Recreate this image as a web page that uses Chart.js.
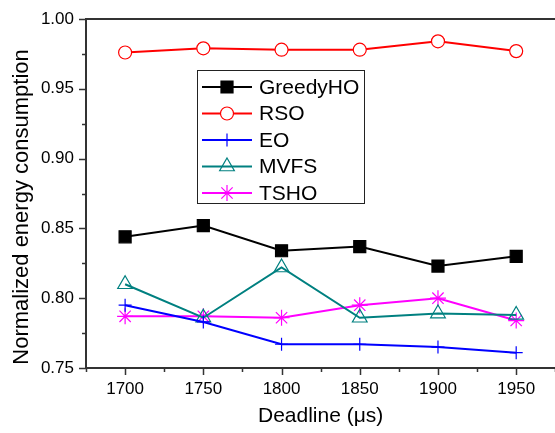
<!DOCTYPE html>
<html>
<head>
<meta charset="utf-8">
<script src="https://cdn.jsdelivr.net/npm/chart.js@4.4.1/dist/chart.umd.min.js"></script>
<style>
  html, body { margin: 0; padding: 0; background: #fff; overflow: hidden; }
  #wrap { width: 565px; height: 433px; }
</style>
</head>
<body>
<div id="wrap"><canvas id="chart" width="565" height="433"></canvas></div>
<script>
// data
var deadlines = [1700, 1750, 1800, 1850, 1900, 1950];
var greedyHO = [0.844, 0.852, 0.834, 0.837, 0.823, 0.830];
var rso      = [0.976, 0.979, 0.978, 0.978, 0.984, 0.977];
var eo       = [0.795, 0.783, 0.767, 0.767, 0.765, 0.761];
var mvfs     = [0.810, 0.786, 0.822, 0.786, 0.789, 0.788];
var tsho     = [0.787, 0.787, 0.786, 0.795, 0.800, 0.784];

var xTicks = [1700, 1750, 1800, 1850, 1900, 1950];
var yTicks = [0.75, 0.80, 0.85, 0.90, 0.95, 1.00];
var xMinor = [1675, 1725, 1775, 1825, 1875, 1925, 1975];
var yMinor = [0.775, 0.825, 0.875, 0.925, 0.975];

var FONT = "'Liberation Sans', Arial, sans-serif";

function pts(ys) {
    return deadlines.map(function (x, i) { return { x: x, y: ys[i] }; });
}

function series(label, ys, color, style, radius, fill) {
    return {
        label: label,
        data: pts(ys),
        borderColor: color,
        backgroundColor: color,
        borderWidth: 2,
        pointStyle: style,
        pointRadius: radius,
        pointBackgroundColor: fill,
        pointBorderColor: color,
        pointBorderWidth: 1.2,
        tension: 0
    };
}

// frame, tick marks, y title and the boxed legend
var decor = {
    id: "decor",
    afterDraw: function (chart) {
        var c = chart.ctx, a = chart.chartArea;
        var xs = chart.scales.x, ys = chart.scales.y;
        c.save();
        c.strokeStyle = "#333";
        c.lineWidth = 2;
        c.beginPath();
        c.moveTo(a.left, a.bottom);
        c.lineTo(a.left, a.top);
        c.lineTo(a.right, a.top);
        c.moveTo(a.left, a.bottom);
        c.lineTo(a.right, a.bottom);
        c.stroke();

        c.lineWidth = 1.5;
        c.beginPath();
        xTicks.forEach(function (v) {
            var px = Math.round(xs.getPixelForValue(v)) + 0.5;
            c.moveTo(px, a.bottom); c.lineTo(px, a.bottom + 7);
        });
        xMinor.forEach(function (v) {
            var px = Math.round(xs.getPixelForValue(v)) + 0.5;
            c.moveTo(px, a.bottom); c.lineTo(px, a.bottom + 4);
        });
        yTicks.forEach(function (v) {
            var py = Math.round(ys.getPixelForValue(v)) + 0.5;
            c.moveTo(a.left, py); c.lineTo(a.left - 7, py);
        });
        yMinor.forEach(function (v) {
            var py = Math.round(ys.getPixelForValue(v)) + 0.5;
            c.moveTo(a.left, py); c.lineTo(a.left - 4, py);
        });
        c.stroke();

        // y axis title, sitting a little below the middle as in the original
        c.save();
        c.translate(22, 207);
        c.rotate(-Math.PI / 2);
        c.font = "22px " + FONT;
        c.fillStyle = "#000";
        c.textAlign = "center";
        c.textBaseline = "middle";
        c.fillText("Normalized energy consumption", 0, 0);
        c.restore();

        // legend box
        var bx = 197, by = 70, bw = 167, bh = 133;
        c.fillStyle = "#fff";
        c.fillRect(bx, by, bw, bh);
        c.strokeStyle = "#222";
        c.lineWidth = 1;
        c.strokeRect(bx + 0.5, by + 0.5, bw, bh);
        c.font = "21px " + FONT;
        c.textBaseline = "middle";
        chart.data.datasets.forEach(function (ds, i) {
            var y = by + 17 + i * 26.5;
            c.strokeStyle = ds.borderColor;
            c.lineWidth = 2;
            c.beginPath();
            c.moveTo(bx + 5, y); c.lineTo(bx + 55, y);
            c.stroke();
            c.fillStyle = ds.pointBackgroundColor;
            c.strokeStyle = ds.pointBorderColor;
            c.lineWidth = 1.2;
            Chart.helpers.drawPoint(c, {
                pointStyle: ds.pointStyle,
                radius: ds.pointRadius,
                borderWidth: 1.2
            }, bx + 30, y);
            c.fillStyle = "#000";
            c.fillText(ds.label, bx + 62, y + 1);
        });
        c.restore();
    }
};

var ctx = document.getElementById("chart");

var chart = new Chart(ctx, {
    type: "line",
    data: {
        datasets: [
            series("GreedyHO", greedyHO, "#000000", "rect", 8.5, "#000000"),
            series("RSO", rso, "#ff0000", "circle", 6.5, "#ffffff"),
            series("EO", eo, "#0000ff", "cross", 6.5, "#0000ff"),
            series("MVFS", mvfs, "#008080", "triangle", 8.5, "rgba(255,255,255,0)"),
            series("TSHO", tsho, "#ff00ff", "star", 8, "#ff00ff")
        ]
    },
    options: {
        responsive: false,
        animation: false,
        layout: { padding: { top: 19, right: 0, left: 0, bottom: 0 } },
        plugins: {
            legend: { display: false },
            tooltip: { enabled: false }
        },
        scales: {
            x: {
                type: "linear",
                min: 1675,
                max: 1975,
                afterBuildTicks: function (s) {
                    s.ticks = xTicks.map(function (v) { return { value: v }; });
                },
                afterFit: function (s) { s.height = 65; },
                grid: { display: false, drawTicks: false },
                border: { display: false },
                ticks: {
                    padding: 11,
                    color: "#000",
                    font: { family: FONT, size: 17 },
                    maxRotation: 0,
                    callback: function (v) { return String(v); }
                },
                title: {
                    display: true,
                    text: "Deadline (\u03bcs)",
                    color: "#000",
                    font: { family: FONT, size: 21 },
                    padding: { top: 15 }
                }
            },
            y: {
                min: 0.75,
                max: 1.0,
                afterBuildTicks: function (s) {
                    s.ticks = yTicks.map(function (v) { return { value: v }; });
                },
                afterFit: function (s) {
                    s.width = 86;
                    s.paddingTop = 0;
                    s.paddingBottom = 0;
                },
                grid: { display: false, drawTicks: false },
                border: { display: false },
                ticks: {
                    padding: 12,
                    color: "#000",
                    font: { family: FONT, size: 17 },
                    callback: function (v) { return v.toFixed(2); }
                },
                title: { display: false }
            }
        }
    },
    plugins: [decor]
});
</script>
</body>
</html>
